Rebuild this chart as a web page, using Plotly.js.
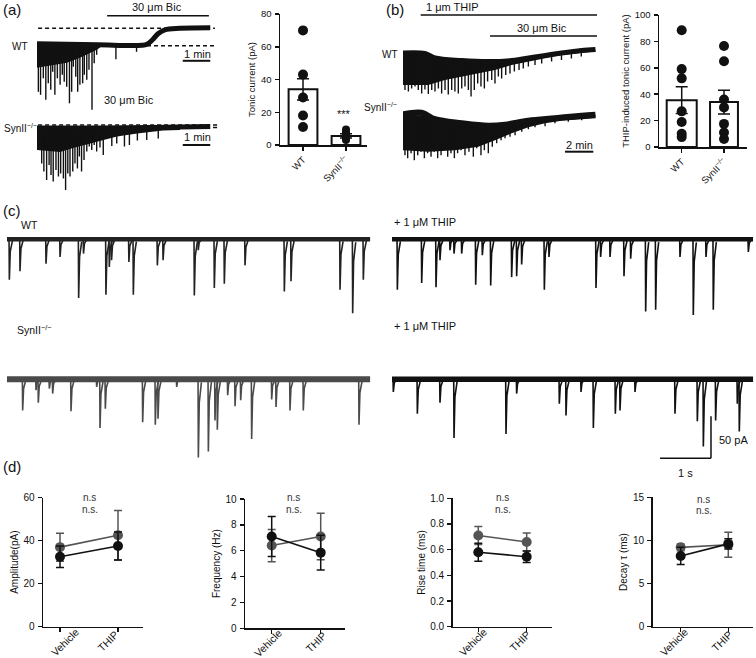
<!DOCTYPE html>
<html><head><meta charset="utf-8">
<script src="https://cdn.plot.ly/plotly-3.0.1.min.js"></script>
<style>html,body{margin:0;padding:0;background:#fff}#chart{width:756px;height:658px}</style>
</head><body><div id="chart"></div>
<script>
// ---------------- DATA ----------------
// (a) long recordings, time in min, current in pA
const aWT_baseT = [0, 2.2, 3.8, 4.0, 4.2, 4.4, 4.65, 5.2, 6.3];
const aWT_baseI = [-31, -33, -34, -32, -23, -11, -3, 0, 1];
const aWT_massT = [0, 0.47, 1.09, 1.56, 1.93, 2.18, 2.35];
const aWT_massI = [-79, -75, -69, -59, -49, -43, -36];
const aWT_spikeT = [0.05,0.13,0.23,0.32,0.41,0.50,0.57,0.65,0.74,0.84,0.92,0.99,1.08,1.18,1.26,1.32,1.41,1.48,1.56,1.66,1.72,1.81,1.89,2.0,2.08,2.17,2.87,3.62];
const aWT_spikeI = [-127,-133,-100,-143,-110,-123,-87,-133,-100,-113,-93,-107,-117,-150,-127,-77,-97,-127,-113,-110,-93,-103,-83,-163,-70,-53,-62,-47];
const aWT_levels = [0, -35];

const aKO_baseT = [0, 2.3, 4.1, 6.3];
const aKO_baseI = [-2, -2, -1, 1];
const aKO_massT = [0, 0.84, 1.31, 2.18, 2.91, 3.64, 4.58, 5.2];
const aKO_massI = [-46, -50, -42, -29, -19, -13, -7, -6];
const aKO_spikeT = [0.17,0.25,0.35,0.44,0.51,0.59,0.69,0.78,0.86,0.96,1.04,1.12,1.2,1.3,1.38,1.47,1.54,1.62,1.71,1.81,1.9,1.99,2.08,2.17,2.29,2.41,2.72,2.9,3.18,3.36,3.65,3.99,4.41];
const aKO_spikeI = [-73,-89,-106,-76,-96,-109,-86,-99,-93,-103,-126,-93,-99,-89,-73,-83,-59,-89,-66,-49,-39,-46,-36,-49,-41,-56,-38,-33,-39,-36,-27,-26,-23];
const aKO_levels = [4, -1];

// (b) long recordings, time in min, current in pA
const bWT_baseT = [0, 1.55, 2.26, 4.15, 6.03, 7.68, 9.33, 11.2, 12.6, 13.6];
const bWT_baseI = [-7, -8, -17, -22, -24, -22, -15, -7, -2, 0];
const bWT_massT = [0, 1.79, 2.97, 4.15, 5.32, 6.5, 7.68, 8.86, 10.04, 11.2, 13.6];
const bWT_massI = [-71, -71, -61, -54, -48, -41, -31, -24, -18, -11, -4];
const bWT_spikeT = [0.14,0.38,0.61,0.85,1.08,1.32,1.55,1.79,2.03,2.26,2.5,2.73,2.97,3.2,3.44,3.67,3.91,4.15,4.38,4.62,4.81,5.04,5.28,5.51,5.75,5.98,6.27,6.5,6.74,6.97,7.26,7.56,7.87,8.2,8.5,8.86,9.33,9.8,10.5,11.2,11.9,12.6];
const bWT_spikeI = [-81,-84,-78,-74,-81,-88,-80,-89,-81,-84,-78,-88,-81,-90,-81,-84,-88,-78,-74,-81,-94,-81,-68,-74,-78,-64,-61,-68,-54,-58,-51,-48,-44,-41,-38,-34,-31,-28,-24,-21,-18,-14];

const bKO_baseT = [0, 1.32, 2.26, 4.15, 6.03, 7.21, 8.86, 10.74, 12.63, 13.6];
const bKO_baseI = [1, 4, -9, -17, -22, -20, -12, -7, -2, 0];
const bKO_massT = [0, 1.79, 3.67, 5.32, 6.5, 7.68, 8.86, 10.04, 11.2, 13.6];
const bKO_massI = [-71, -74, -71, -64, -51, -37, -25, -17, -12, -7];
const bKO_spikeT = [0.14,0.33,0.57,0.8,1.04,1.27,1.51,1.74,1.98,2.21,2.45,2.69,2.92,3.16,3.39,3.63,3.86,4.1,4.38,4.66,4.97,5.21,5.51,5.75,6.03,6.31,6.62,6.93,7.21,7.56,7.92,8.39,8.86,9.33,10.04,10.74,11.68,12.63];
const bKO_spikeI = [-81,-87,-77,-91,-81,-74,-87,-77,-84,-74,-87,-81,-71,-84,-77,-87,-77,-71,-81,-74,-84,-67,-81,-71,-77,-64,-57,-51,-47,-44,-41,-34,-29,-25,-23,-17,-14,-11];

// drug application periods (min)
const aBic = [2.55, 6.25];
const bTHIP = [1.25, 13.71];
const bBic = [6.15, 13.71];

// (c) sIPSC traces: event times (s) and amplitudes (pA)
const cWT_L_t = [0.046,0.255,0.765,1.04,1.405,1.50,1.94,2.006,2.05,2.39,2.477,2.948,3.06,3.673,3.75,4.065,4.261,4.667,5.438,5.569,6.53,6.778,6.987];
const cWT_L_a = [48,38,29,21,70,17,66,33,25,27,66,31,25,67,13,58,53,31,62,50,60,88,48];
const cKO_L_t = [0.307,0.569,0.614,0.83,0.895,1.255,1.758,1.824,1.928,2.66,2.908,2.961,3.327,3.752,3.948,4.078,4.124,4.327,4.471,4.582,4.797,5.19,5.275,5.549,5.81,6.902];
const cKO_L_a = [37,13,28,11,17,38,9,58,35,51,54,47,9,93,86,49,60,19,32,25,71,24,33,37,37,54];
const cWT_R_t = [0.105,0.582,0.863,0.941,1.137,1.216,1.366,1.641,1.771,1.935,2.346,2.444,2.542,2.987,3.078,4.0,4.091,4.275,4.549,4.68,4.974,5.17,5.647,5.908,6.157,6.3,6.987];
const cWT_R_a = [60,52,57,25,13,17,17,54,19,55,45,44,30,60,21,58,21,21,44,23,86,84,21,90,21,84,15];
const cKO_R_t = [0.026,0.497,0.941,1.216,2.235,2.444,3.281,3.412,3.706,3.948,4.379,4.471,4.765,5.549,5.987,6.105,6.346,6.771,6.81];
const cKO_R_a = [15,41,28,70,65,17,29,43,15,58,41,37,15,41,50,80,49,29,62];
const cDur = [7.12, 7.08];
const scaleS = 1, scalePA = 50;

// bar charts
const groups = ['WT', 'SynII<sup>−/−</sup>'];
const tonicMean = [34, 5.5], tonicSem = [6.5, 1.3];
const tonicWT = [70, 43, 29, 18, 11];
const tonicKO = [9.5, 8, 7, 6, 5, 4, 3];
const thipMean = [35.5, 34], thipSem = [10.2, 9];
const thipWT = [88.5, 59, 52, 27, 19, 10, 7.5];
const thipKO = [76.5, 65, 36, 30, 17.5, 11, 6];

// (d) sIPSC properties
const conds = ['Vehicle', 'THIP'];
const ampBlack = [32.5, 37.5], ampBlackErr = [5, 6.5];
const ampGray = [37, 42.5], ampGrayErr = [6.5, 11.5];
const freqBlack = [7.1, 5.85], freqBlackErr = [1.55, 1.35];
const freqGray = [6.4, 7.1], freqGrayErr = [1.25, 1.8];
const riseBlack = [0.58, 0.545], riseBlackErr = [0.07, 0.045];
const riseGray = [0.71, 0.66], riseGrayErr = [0.07, 0.07];
const decayBlack = [8.2, 9.6], decayBlackErr = [1.0, 0.6];
const decayGray = [9.2, 9.5], decayGrayErr = [0.4, 1.45];

// ---------------- LAYOUT HELPERS ----------------
const W = 756, H = 658;
const FONT = 'Arial, "Liberation Sans", Helvetica, sans-serif';
const INK = '#111', GRAY = '#555';
function xd(a, b) { return [a / W, b / W]; }
function yd(t, b) { return [1 - b / H, 1 - t / H]; }
const layout = {
  width: W, height: H, margin: {l: 0, r: 0, t: 0, b: 0}, showlegend: false,
  paper_bgcolor: '#fff', plot_bgcolor: 'rgba(0,0,0,0)',
  font: {family: FONT, size: 11, color: INK}, shapes: [], annotations: []
};
const data = [];
const sfx = n => (n === 1 ? '' : String(n));
function hiddenAx(n, xdom, xr, ydom, yr) {
  const s = sfx(n);
  layout['xaxis' + s] = {domain: xdom, range: xr, visible: false, fixedrange: true, anchor: 'y' + s};
  layout['yaxis' + s] = {domain: ydom, range: yr, visible: false, fixedrange: true, anchor: 'x' + s};
}
function visAx(n, xdom, xr, ydom, yr, o) {
  const s = sfx(n);
  const common = {showline: true, linecolor: INK, linewidth: 1.5, ticks: 'outside', ticklen: 4, tickwidth: 1.5,
    tickcolor: INK, showgrid: false, zeroline: false, fixedrange: true, tickfont: {size: o.fsize || 10, color: INK}};
  layout['xaxis' + s] = Object.assign({}, common, {domain: xdom, range: xr, anchor: 'y' + s,
    tickmode: 'array', tickvals: o.cats.map((c, i) => i), ticktext: o.cats, tickangle: -45,
    showticklabels: o.xlabels !== false});
  layout['yaxis' + s] = Object.assign({}, common, {domain: ydom, range: yr, anchor: 'x' + s,
    dtick: o.dtick, tickformat: o.fmt || '', ticklabelstandoff: 1,
    title: {text: o.title, font: {size: o.tsize || 10, color: INK}, standoff: o.standoff || 3}});
}
function axRef(n) { const s = sfx(n); return {xaxis: 'x' + s, yaxis: 'y' + s}; }
function interp(xs, ys, x) {
  if (x <= xs[0]) return ys[0];
  for (let i = 1; i < xs.length; i++) {
    if (x <= xs[i]) { const f = (x - xs[i - 1]) / (xs[i] - xs[i - 1]); return ys[i - 1] + f * (ys[i] - ys[i - 1]); }
  }
  return ys[ys.length - 1];
}
function longRec(n, bT, bI, mT, mI, sT, sI, bandW) {
  const ax = axRef(n);
  const topI = mT.map(t => interp(bT, bI, t));
  data.push(Object.assign({type: 'scatter', mode: 'lines', x: mT.concat(mT.slice().reverse()),
    y: mI.concat(topI.slice().reverse()), fill: 'toself', fillcolor: INK, line: {width: 0, color: INK}, hoverinfo: 'skip'}, ax));
  const xs = [], ys = [];
  sT.forEach((t, i) => { xs.push(t, t, null); ys.push(interp(bT, bI, t), sI[i], null); });
  data.push(Object.assign({type: 'scatter', mode: 'lines', x: xs, y: ys, line: {width: 1.4, color: INK}, hoverinfo: 'skip'}, ax));
  data.push(Object.assign({type: 'scatter', mode: 'lines', x: bT, y: bI, line: {width: bandW, color: INK, shape: 'spline'}, hoverinfo: 'skip'}, ax));
}
function shortRec(n, T, eT, eA, color, bandW) {
  const ax = axRef(n);
  data.push(Object.assign({type: 'scatter', mode: 'lines', x: [0, T], y: [0, 0], line: {width: bandW, color}, hoverinfo: 'skip'}, ax));
  const xs = [], ys = [];
  eT.forEach((t, i) => { const a = eA[i];
    xs.push(t - 0.006, t, t + 0.018, t + 0.06, null); ys.push(0, -a, -a * 0.3, -a * 0.04, null); });
  data.push(Object.assign({type: 'scatter', mode: 'lines', x: xs, y: ys, line: {width: 1.6, color}, hoverinfo: 'skip'}, ax));
}
function hline(n, x0, x1, y, w, dash) {
  const s = sfx(n);
  layout.shapes.push({type: 'line', xref: 'x' + s, yref: 'y' + s, x0, x1, y0: y, y1: y, line: {color: INK, width: w, dash: dash || 'solid'}});
}
function vline(n, x, y0, y1, w) {
  const s = sfx(n);
  layout.shapes.push({type: 'line', xref: 'x' + s, yref: 'y' + s, x0: x, x1: x, y0, y1, line: {color: INK, width: w}});
}
function txt(text, x, y, o) {
  layout.annotations.push(Object.assign({text, x: x / W, y: 1 - y / H, xref: 'paper', yref: 'paper', showarrow: false,
    xanchor: 'center', yanchor: 'middle', font: {size: 11, color: INK}}, o || {}));
}

// ---------------- (a) ----------------
hiddenAx(1, xd(37, 218), [0, 6.582], yd(3, 115), [-173.4, 50.6]);
hiddenAx(2, xd(37, 218), [0, 6.582], yd(110, 195), [-136, 34]);
longRec(1, aWT_baseT, aWT_baseI, aWT_massT, aWT_massI, aWT_spikeT, aWT_spikeI, 5);
longRec(2, aKO_baseT, aKO_baseI, aKO_massT, aKO_massI, aKO_spikeT, aKO_spikeI, 5);
hline(1, 0.04, 6.47, aWT_levels[0], 1.5, '4px,3px');
hline(1, 4.0, 6.47, aWT_levels[1], 1.5, '4px,3px');
hline(1, aBic[0], aBic[1], 25, 1.5);
hline(1, 5.3, 5.3 + 1, -65, 2);
hline(2, 0.04, 6.27, aKO_levels[0], 1.5, '4px,3px');
hline(2, 6.4, 6.55, aKO_levels[0], 1.5);
hline(2, 6.4, 6.55, aKO_levels[1], 1.5);
hline(2, 5.3, 5.3 + 1, -36, 2);

visAx(3, xd(280, 367), [-0.535, 1.488], yd(14, 145), [0, 80],
  {cats: groups, dtick: 20, title: 'Tonic current (pA)', tsize: 9.5, fsize: 9.5, standoff: 3});
data.push(Object.assign({type: 'bar', x: [0, 1], y: tonicMean, width: [0.67, 0.67],
  marker: {color: '#fff', line: {color: INK, width: 2}},
  error_y: {type: 'data', array: tonicSem, visible: true, color: INK, thickness: 1.5, width: 6}}, axRef(3)));
data.push(Object.assign({type: 'scatter', mode: 'markers', x: tonicWT.map(() => 0), y: tonicWT, marker: {size: 10, color: INK}}, axRef(3)));
data.push(Object.assign({type: 'scatter', mode: 'markers', x: tonicKO.map(() => 1), y: tonicKO, marker: {size: 8, color: INK}}, axRef(3)));

// ---------------- (b) ----------------
hiddenAx(4, xd(403, 600), [0, 13.922], yd(3, 100), [-101, 93]);
hiddenAx(5, xd(403, 600), [0, 13.922], yd(95, 170), [-110.6, 39.4]);
longRec(4, bWT_baseT, bWT_baseI, bWT_massT, bWT_massI, bWT_spikeT, bWT_spikeI, 5);
longRec(5, bKO_baseT, bKO_baseI, bKO_massT, bKO_massI, bKO_spikeT, bKO_spikeI, 6);
hline(4, bTHIP[0], bTHIP[1], 69, 1.5);
hline(4, bBic[0], bBic[1], 27, 1.5);
hline(5, 11.45, 11.45 + 2, -74, 2);

visAx(6, xd(659, 747), [-0.537, 1.544], yd(15, 147), [0, 100],
  {cats: groups, dtick: 20, title: 'THIP-induced tonic current (pA)', tsize: 9.5, fsize: 9.5, standoff: 3});
data.push(Object.assign({type: 'bar', x: [0, 1], y: thipMean, width: [0.71, 0.66],
  marker: {color: '#fff', line: {color: INK, width: 2}},
  error_y: {type: 'data', array: thipSem, visible: true, color: INK, thickness: 1.5, width: 6}}, axRef(6)));
data.push(Object.assign({type: 'scatter', mode: 'markers', x: thipWT.map(() => 0), y: thipWT, marker: {size: 10, color: INK}}, axRef(6)));
data.push(Object.assign({type: 'scatter', mode: 'markers', x: thipKO.map(() => 1), y: thipKO, marker: {size: 10, color: INK}}, axRef(6)));

// ---------------- (c) ----------------
hiddenAx(7, xd(7, 372), [0, 7.157], yd(225, 320), [-96.07, 17.02]);
hiddenAx(8, xd(7, 372), [0, 7.157], yd(365, 460), [-96.07, 17.02]);
hiddenAx(9, xd(392, 755), [0, 7.118], yd(225, 320), [-96.07, 17.02]);
hiddenAx(10, xd(392, 755), [0, 7.118], yd(365, 460), [-96.07, 17.02]);
shortRec(7, cDur[0], cWT_L_t, cWT_L_a, '#222', 4.5);
shortRec(8, cDur[0], cKO_L_t, cKO_L_a, '#4a4a4a', 6);
shortRec(9, cDur[1], cWT_R_t, cWT_R_a, INK, 4.5);
shortRec(10, cDur[1], cKO_R_t, cKO_R_a, INK, 5.5);
hline(10, 5.255, 5.255 + scaleS, -94, 1.5);
vline(10, 5.255 + scaleS, -94, -94 + scalePA, 1.5);

// ---------------- (d) ----------------
function dPlot(n, xdom, xr, ydom, yr, o, gy, ge, by, be, labelPos) {
  o.xlabels = false;
  visAx(n, xdom, xr, ydom, yr, o);
  const ax = axRef(n);
  [[gy, ge, GRAY], [by, be, INK]].forEach(([y, e, c]) => {
    data.push(Object.assign({type: 'scatter', mode: 'lines+markers', x: [0, 1], y,
      line: {color: c, width: 1.6}, marker: {size: 10, color: c},
      error_y: {type: 'data', array: e, visible: true, color: c, thickness: 1.5, width: 4}}, ax));
  });
  conds.forEach((c, i) => txt(c, labelPos[i][0], labelPos[i][1], {textangle: -45, font: {size: 10.5, color: INK}}));
}
dPlot(11, xd(43, 143), [-0.293, 1.431], yd(497.7, 626.7), [0, 60], {cats: conds, dtick: 20, title: 'Amplitude(pA)'},
  ampGray, ampGrayErr, ampBlack, ampBlackErr, [[65, 642], [108, 641]]);
dPlot(12, xd(245, 345), [-0.545, 1.496], yd(499, 628.3), [0, 10], {cats: conds, dtick: 2, title: 'Frequency (Hz)'},
  freqGray, freqGrayErr, freqBlack, freqBlackErr, [[268, 643], [316, 642]]);
dPlot(13, xd(452.7, 551.7), [-0.529, 1.517], yd(498.3, 626.7), [0, 1], {cats: conds, dtick: 0.2, fmt: '.1f', title: 'Rise time (ms)'},
  riseGray, riseGrayErr, riseBlack, riseBlackErr, [[473, 642], [520, 641]]);
dPlot(14, xd(652.7, 753), [-0.588, 1.519], yd(497.3, 626.7), [0, 15], {cats: conds, dtick: 5, title: 'Decay τ (ms)'},
  decayGray, decayGrayErr, decayBlack, decayBlackErr, [[674, 642], [722, 641]]);

// ---------------- TEXT ----------------
const L = {size: 15, color: INK};
txt('(a)', 1, 9, {xanchor: 'left', font: L});
txt('(b)', 384, 9, {xanchor: 'left', font: L});
txt('(c)', 1, 211, {xanchor: 'left', font: L});
txt('(d)', 1, 466, {xanchor: 'left', font: L});
txt('30 μm Bic', 157, 7);
txt('WT', 20, 46, {font: {size: 10, color: INK}});
txt('SynII<sup>−/−</sup>', 2, 128, {xanchor: 'left', font: {size: 10, color: INK}});
txt('30 μm Bic', 129, 100);
txt('1 min', 197, 54);
txt('1 min', 197, 137);
txt('***', 344, 114, {font: {size: 11, color: INK}});
txt('1 μm THIP', 452, 7);
txt('30 μm Bic', 542, 28);
txt('WT', 390, 55, {font: {size: 10, color: INK}});
txt('SynII<sup>−/−</sup>', 399, 107, {xanchor: 'right', font: {size: 10, color: INK}});
txt('2 min', 579, 145);
txt('WT', 29, 225, {font: {size: 10.5, color: INK}});
txt('SynII<sup>−/−</sup>', 15, 329, {xanchor: 'left', font: {size: 10.5, color: INK}});
txt('+ 1 μM THIP', 392, 222, {xanchor: 'left'});
txt('+ 1 μM THIP', 392, 326, {xanchor: 'left'});
txt('50 pA', 717, 440, {xanchor: 'left'});
txt('1 s', 685, 473);
const NS = {size: 10, color: '#333'};
[[89, 497], [293, 497], [502, 497], [703, 499]].forEach(([x, y]) => {
  txt('n.s', x, y, {font: NS});
  txt('n.s.', x + 1, y + 12, {font: NS});
});

Plotly.newPlot('chart', data, layout, {staticPlot: true, displayModeBar: false});
</script>
</body></html>
